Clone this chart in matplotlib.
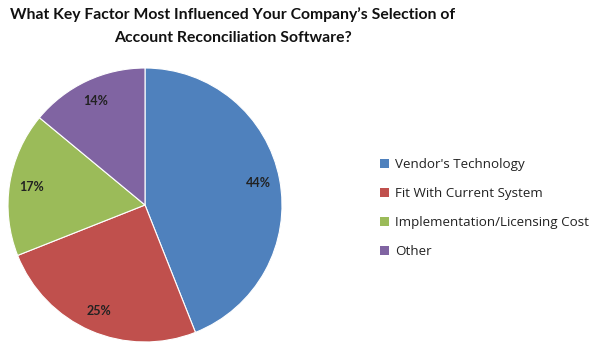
import matplotlib
matplotlib.use("Agg")
import matplotlib.pyplot as plt
from matplotlib.patches import Patch

categories = ["Vendor's Technology", "Fit With Current System",
              "Implementation/Licensing Cost", "Other"]
values = [44, 25, 17, 14]
colors = ["#4F81BD", "#C0504D", "#9BBB59", "#8064A2"]
title = "What Key Factor Most Influenced Your Company\u2019s Selection of\nAccount Reconciliation Software?"

fig = plt.figure(figsize=(6, 3.49), dpi=100)
fig.patch.set_facecolor("white")

ax = fig.add_axes([8/600, 7/349, 274/600, 274/349])
wedges, texts, autotexts = ax.pie(
    values, colors=colors, startangle=90, counterclock=False,
    autopct=lambda p: f"{p:.0f}%", pctdistance=0.84,
    wedgeprops=dict(edgecolor="white", linewidth=0.8),
    textprops=dict(fontsize=9, fontweight="bold", color="#222222", family="Lato"),
    radius=1.0)
ax.set_xlim(-1, 1)
ax.set_ylim(-1, 1)
ax.set_aspect("equal")

fig.text(233/600, 1 - 26/349, title, ha="center", va="center",
         fontsize=11.3, fontweight="bold", family="Lato", color="#111111",
         linespacing=1.75)

handles = [Patch(facecolor=c, edgecolor="none") for c in colors]
fig.legend(handles, categories, loc="center left",
           bbox_to_anchor=(368/600, 1 - 208/349), frameon=False,
           prop=dict(family="Open Sans", size=9.6), handlelength=0.65, handleheight=0.65,
           handletextpad=0.45, labelspacing=1.2, labelcolor="#222222")

fig.savefig("out.png", dpi=100)
